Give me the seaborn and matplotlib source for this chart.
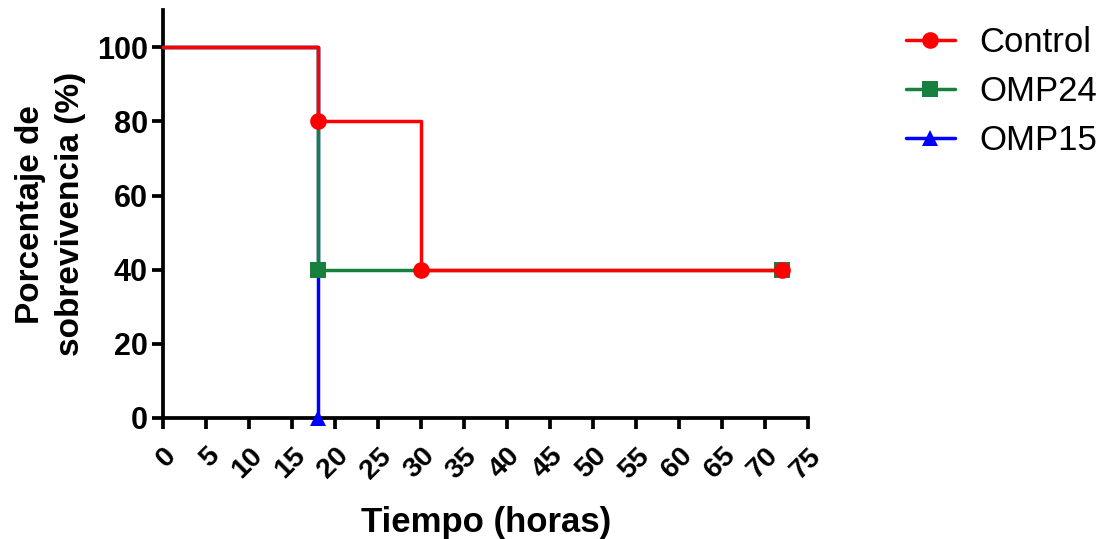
import matplotlib
matplotlib.use("Agg")
import matplotlib.pyplot as plt
import seaborn as sns
import pandas as pd
from matplotlib.lines import Line2D

# Data (Kaplan-Meier style survival steps)
control_t = [0, 18, 30, 72]
control_s = [100, 80, 40, 40]
omp24_t = [0, 18, 72]
omp24_s = [100, 40, 40]
omp15_t = [0, 18]
omp15_s = [100, 0]

groups = ["Control", "OMP24", "OMP15"]
colors = {"Control": "#FF0000", "OMP24": "#17803D", "OMP15": "#0000FF"}
markers = {"Control": "o", "OMP24": "s", "OMP15": "^"}

x_ticks = list(range(0, 80, 5))
y_ticks = [0, 20, 40, 60, 80, 100]

sns.set_theme(style="ticks")
plt.rcParams["font.family"] = ["Liberation Sans", "DejaVu Sans"]
plt.rcParams["text.color"] = "black"
plt.rcParams["axes.labelcolor"] = "black"
plt.rcParams["xtick.color"] = "black"
plt.rcParams["ytick.color"] = "black"

fig = plt.figure(figsize=(11.05, 5.39), dpi=100)
ax = fig.add_axes([0.1475, 0.2245, 0.584, 0.7565])

data = {
    "Control": (control_t, control_s),
    "OMP24": (omp24_t, omp24_s),
    "OMP15": (omp15_t, omp15_s),
}

# draw order: OMP15, OMP24, Control on top
for z, g in enumerate(["OMP15", "OMP24", "Control"]):
    t, s = data[g]
    df = pd.DataFrame({"t": t, "s": s})
    sns.lineplot(data=df, x="t", y="s", ax=ax, color=colors[g], lw=2.5,
                 drawstyle="steps-post", estimator=None, sort=False,
                 marker=markers[g], markersize=12, markevery=list(range(1, len(t))),
                 markeredgewidth=0, zorder=3 + z, clip_on=False)

ax.set_xlim(0, 75)
ax.set_ylim(0, 110)
ax.set_xticks(x_ticks)
ax.set_yticks(y_ticks)
ax.set_xticklabels([str(v) for v in x_ticks], rotation=45, ha="right",
                   rotation_mode="anchor", fontsize=20.5, fontweight="bold")
ax.set_yticklabels([str(v) for v in y_ticks], fontsize=22, fontweight="bold")
ax.tick_params(axis="both", direction="out", length=8, width=2.7, color="black", pad=3)
ax.tick_params(axis="x", pad=10)
for sp in ["left", "bottom"]:
    ax.spines[sp].set_linewidth(2.7)
    ax.spines[sp].set_color("black")
sns.despine(ax=ax)

ax.set_xlabel("Tiempo (horas)", fontsize=25, fontweight="bold", labelpad=16)
ax.set_ylabel("Porcentaje de\nsobrevivencia (%)", fontsize=24, fontweight="bold",
              labelpad=8, linespacing=1.35)

handles = [Line2D([0], [0], color=colors[g], lw=2.5, marker=markers[g],
                  markersize=12, markeredgewidth=0) for g in groups]
fig.legend(handles, groups, loc="upper left", bbox_to_anchor=(0.82, 0.952),
           frameon=False, fontsize=25, handlelength=1.4, handletextpad=0.7,
           labelspacing=0.46, borderpad=0, borderaxespad=0)

fig.savefig("out.png", dpi=100)
